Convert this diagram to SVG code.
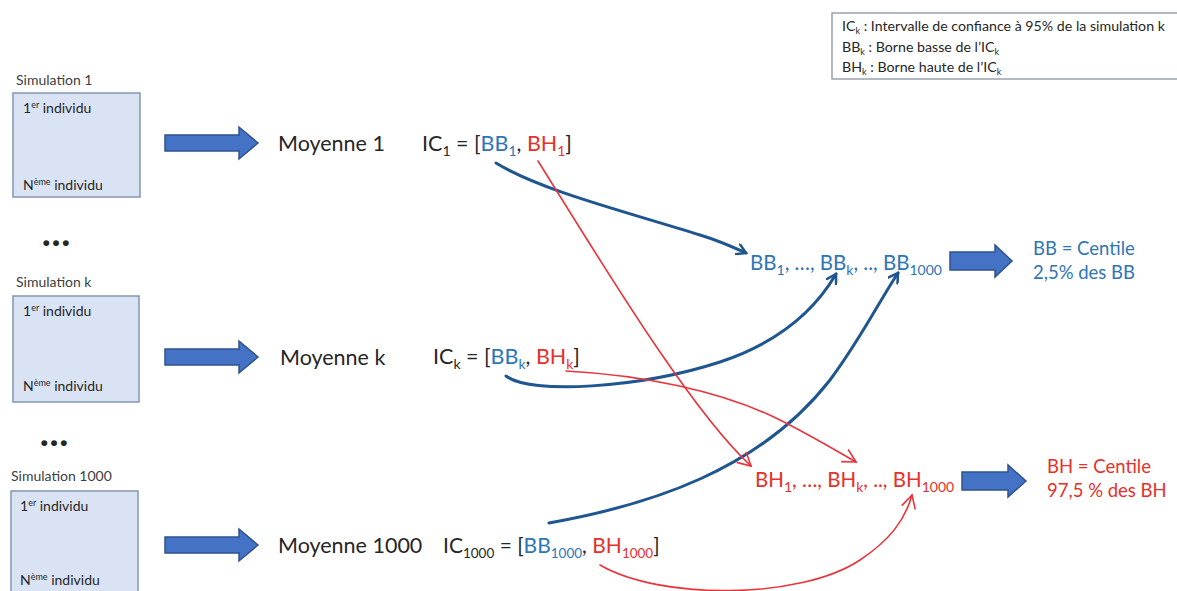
<svg xmlns="http://www.w3.org/2000/svg" width="1177" height="591" viewBox="0 0 1177 591">
<style>
text{font-family:Lato,"Open Sans","Liberation Sans",sans-serif;}
.lbl{font-size:14px;fill:#404040;}
.ind{font-size:14px;fill:#262626;}
.sup{font-size:9px;}
.box{fill:#dae3f3;stroke:#8497b0;stroke-width:1.5;}
.big{fill:#4472c4;stroke:#2f528f;stroke-width:1.5;}
.main{font-size:21.5px;fill:#262626;}
.sub{font-size:14px;}
.b{fill:#2e75b6;}
.r{fill:#e8302a;}
.leg{font-size:14.2px;fill:#262626;}
.cb{fill:none;stroke:#1f5690;stroke-width:3;stroke-linecap:round;}
.cr{fill:none;stroke:#e8343a;stroke-width:1.6;stroke-linecap:round;}
.dots{font-size:36px;font-weight:900;fill:#262626;}
</style>
<defs>
<marker id="ab" markerWidth="12" markerHeight="12" refX="10" refY="6" orient="auto" markerUnits="userSpaceOnUse" viewBox="0 0 12 12">
<path d="M0,0 L10,6 L0,12" fill="none" stroke="#1f5690" stroke-width="2.5"/>
</marker>
<marker id="ar" markerWidth="16" markerHeight="16" refX="14" refY="8" orient="auto" markerUnits="userSpaceOnUse" viewBox="0 0 16 16">
<path d="M1,1 L14,8 L1,15" fill="none" stroke="#e8343a" stroke-width="1.6"/>
</marker>
<path id="bigarrow" d="M0,-8 L74,-8 L74,-16 L93,0 L74,16 L74,8 L0,8 Z"/>
</defs>

<g id="legend">
<rect x="832" y="13" width="346" height="66" fill="#fff" stroke="#7f8a99" stroke-width="1.2"/>
<text class="leg" x="842" y="31">IC<tspan class="sup" dy="3">k</tspan><tspan dy="-3"> : Intervalle de confiance à 95% de la simulation k</tspan></text>
<text class="leg" x="842" y="52">BB<tspan class="sup" dy="3">k</tspan><tspan dy="-3"> : Borne basse de l’IC</tspan><tspan class="sup" dy="3">k</tspan></text>
<text class="leg" x="842" y="72">BH<tspan class="sup" dy="3">k</tspan><tspan dy="-3"> : Borne haute de l’IC</tspan><tspan class="sup" dy="3">k</tspan></text>
</g>

<g id="sim1">
<text class="lbl" x="16" y="85">Simulation 1</text>
<rect class="box" x="13" y="93" width="127" height="104"/>
<text class="ind" x="23" y="113">1<tspan class="sup" dy="-5">er</tspan><tspan dy="5"> individu</tspan></text>
<text class="ind" x="23" y="190">N<tspan class="sup" dy="-5">ème</tspan><tspan dy="5"> individu</tspan></text>
</g>
<text class="dots" x="42" y="246">…</text>
<g id="simk">
<text class="lbl" x="16" y="287">Simulation k</text>
<rect class="box" x="13" y="296" width="126" height="106"/>
<text class="ind" x="23" y="316">1<tspan class="sup" dy="-5">er</tspan><tspan dy="5"> individu</tspan></text>
<text class="ind" x="23" y="391">N<tspan class="sup" dy="-5">ème</tspan><tspan dy="5"> individu</tspan></text>
</g>
<text class="dots" x="40" y="446">…</text>
<g id="sim1000">
<text class="lbl" x="11" y="481">Simulation 1000</text>
<rect class="box" x="11" y="491" width="127" height="110"/>
<text class="ind" x="20" y="511">1<tspan class="sup" dy="-5">er</tspan><tspan dy="5"> individu</tspan></text>
<text class="ind" x="20" y="585">N<tspan class="sup" dy="-5">ème</tspan><tspan dy="5"> individu</tspan></text>
</g>

<g id="arrows">
<use href="#bigarrow" class="big" transform="translate(165,143)"/>
<use href="#bigarrow" class="big" transform="translate(165,357)"/>
<use href="#bigarrow" class="big" transform="translate(165,545)"/>
<path class="big" d="M950,252 L995,252 L995,245 L1012,261 L995,277 L995,270 L950,270 Z"/>
<path class="big" d="M962,472 L1008,472 L1008,465 L1026,481 L1008,497 L1008,490 L962,490 Z"/>
</g>

<g id="mean1">
<text class="main" x="278" y="151">Moyenne 1</text>
<text class="main" x="422" y="151">IC<tspan class="sub" dy="5">1</tspan><tspan dy="-5"> = [</tspan><tspan class="b">BB</tspan><tspan class="sub b" dy="5">1</tspan><tspan dy="-5">, </tspan><tspan class="r">BH</tspan><tspan class="sub r" dy="5">1</tspan><tspan dy="-5">]</tspan></text>
</g>
<g id="meank">
<text class="main" x="280" y="365">Moyenne k</text>
<text class="main" x="433" y="364">IC<tspan class="sub" dy="5">k</tspan><tspan dy="-5"> = [</tspan><tspan class="b">BB</tspan><tspan class="sub b" dy="5">k</tspan><tspan dy="-5">, </tspan><tspan class="r">BH</tspan><tspan class="sub r" dy="5">k</tspan><tspan dy="-5">]</tspan></text>
</g>
<g id="mean1000">
<text class="main" x="278" y="553">Moyenne 1000</text>
<text class="main" x="443" y="553" style="font-size:21px">IC<tspan class="sub" dy="5" style="font-size:13.5px">1000</tspan><tspan dy="-5"> = [</tspan><tspan class="b">BB</tspan><tspan class="sub b" dy="5" style="font-size:13.5px">1000</tspan><tspan dy="-5">, </tspan><tspan class="r">BH</tspan><tspan class="sub r" dy="5" style="font-size:13.5px">1000</tspan><tspan dy="-5">]</tspan></text>
</g>

<g id="bblist">
<text class="main b" x="750" y="270" style="font-size:20.5px">BB<tspan class="sub" dy="5">1</tspan><tspan dy="-5">, …, BB</tspan><tspan class="sub" dy="5">k</tspan><tspan dy="-5">, .., BB</tspan><tspan class="sub" dy="5">1000</tspan></text>
</g>
<g id="bbresult">
<text class="main b" x="1033" y="255" style="font-size:18.5px">BB = Centile</text>
<text class="main b" x="1033" y="279" style="font-size:18.5px">2,5% des BB</text>
</g>
<g id="bhlist">
<text class="main r" x="755" y="487" style="font-size:20.5px">BH<tspan class="sub" dy="5">1</tspan><tspan dy="-5">, …, BH</tspan><tspan class="sub" dy="5">k</tspan><tspan dy="-5">, .., BH</tspan><tspan class="sub" dy="5">1000</tspan></text>
</g>
<g id="bhresult">
<text class="main r" x="1047" y="473" style="font-size:18.5px">BH = Centile</text>
<text class="main r" x="1047" y="497" style="font-size:18.5px">97,5 % des BH</text>
</g>

<g id="connectors">
<path class="cb" d="M496,163 C540,190 620,210 700,235 C720,241 735,248 746,253" marker-end="url(#ab)"/>
<path class="cb" d="M506,376 C530,395 640,388 720,362 C780,342 815,310 836,274" marker-end="url(#ab)"/>
<path class="cb" d="M549,523 C650,505 760,470 830,380 C860,340 880,300 898,273" marker-end="url(#ab)"/>
<path class="cr" d="M538,161 C600,260 690,410 751,466" marker-end="url(#ar)"/>
<path class="cr" d="M566,371 C640,375 720,390 780,420 C810,435 835,450 856,462" marker-end="url(#ar)"/>
<path class="cr" d="M600,565 C660,600 800,600 860,560 C890,540 905,520 912,495" marker-end="url(#ar)"/>
</g>
</svg>
